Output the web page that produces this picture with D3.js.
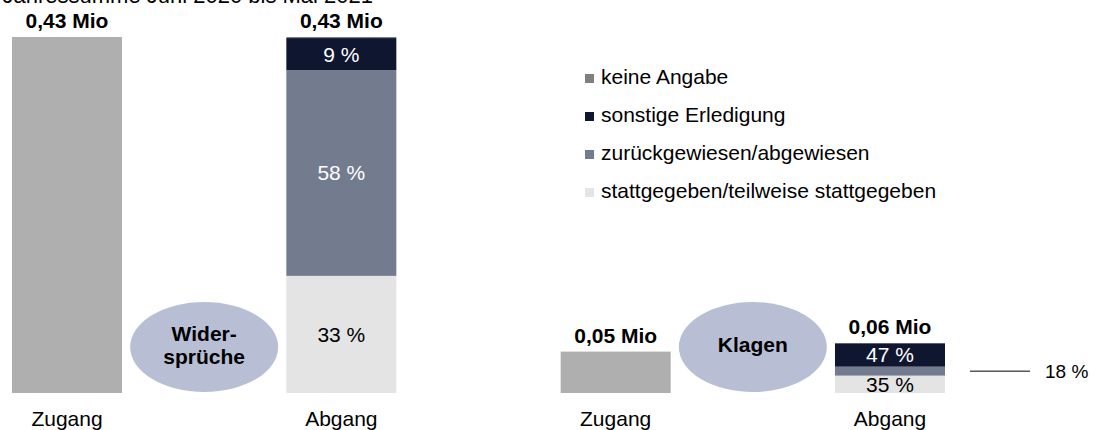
<!DOCTYPE html>
<html>
<head>
<meta charset="utf-8">
<script src="https://cdn.jsdelivr.net/npm/d3@7"></script>
<style>
  body { margin: 0; background: #fff; }
  svg { display: block; font-family: "Liberation Sans", Arial, sans-serif; }
</style>
</head>
<body>
<svg id="chart" width="1094" height="430"></svg>
<script>
// data
var groups = ["Widersprüche", "Klagen"];
var groupLines = [["Wider-", "sprüche"], ["Klagen"]];
var barKeys = ["W-Zugang", "W-Abgang", "K-Zugang", "K-Abgang"];
var zugang = [0.43, 0.05];
var abgang = [0.43, 0.06];
var zugangLabels = ["0,43 Mio", "0,05 Mio"];
var abgangLabels = ["0,43 Mio", "0,06 Mio"];
var outcomes = ["stattgegeben", "zurueck", "sonstige", "keine"];
var outcomeNames = ["stattgegeben/teilweise stattgegeben", "zurückgewiesen/abgewiesen", "sonstige Erledigung", "keine Angabe"];
// shares in percent per group, same order as outcomes
var shares = [
    [33, 58, 9, 0.3],
    [35, 18, 47, 0]
];
var shareLabels = [
    ["33 %", "58 %", "9 %", ""],
    ["35 %", "", "47 %", ""]
];
var title = "Jahressumme Juni 2020 bis Mai 2021";

var colors = {
    zugang: "#afafaf",
    stattgegeben: "#e4e4e4",
    zurueck: "#737b8f",
    sonstige: "#0f1630",
    keine: "#7f7f7f",
    ellipse: "#b8bfd4"
};
var labelColor = { stattgegeben: "#000", zurueck: "#fff", sonstige: "#fff", keine: "#000" };

var fs = "21px";
var svg = d3.select("#chart");
var baseY = 393;

var y = d3.scaleLinear().domain([0, 0.43]).range([baseY, 37]);
var x = d3.scaleBand().domain(barKeys).range([12, 945]).paddingInner(0.599).paddingOuter(0);

// cut-off title at the very top
svg.append("text")
    .attr("x", 373)
    .attr("y", 3)
    .attr("text-anchor", "end")
    .attr("font-size", "22px")
    .attr("fill", "#000")
    .text(title);

groups.forEach(function(g, i) {
    var zKey = barKeys[i * 2], aKey = barKeys[i * 2 + 1];

    // zugang bar
    svg.append("rect")
        .attr("x", x(zKey))
        .attr("y", y(zugang[i]))
        .attr("width", x.bandwidth())
        .attr("height", baseY - y(zugang[i]))
        .attr("fill", colors.zugang);

    svg.append("text")
        .attr("x", x(zKey) + x.bandwidth() / 2)
        .attr("y", y(zugang[i]) - 9)
        .attr("text-anchor", "middle")
        .attr("font-size", fs)
        .attr("font-weight", "bold")
        .text(zugangLabels[i]);

    // abgang stack
    var sum = d3.sum(shares[i]);
    var row = {};
    outcomes.forEach(function(o, j) { row[o] = shares[i][j] / sum * abgang[i]; });
    var stacked = d3.stack().keys(outcomes)([row]);

    stacked.forEach(function(s, j) {
        var d = s[0];
        var y0 = y(d[0]), y1 = y(d[1]);
        if (y0 - y1 <= 0) return;
        svg.append("rect")
            .attr("x", x(aKey))
            .attr("y", y1)
            .attr("width", x.bandwidth())
            .attr("height", y0 - y1)
            .attr("fill", colors[s.key]);

        var lbl = shareLabels[i][j];
        if (lbl) {
            svg.append("text")
                .attr("x", x(aKey) + x.bandwidth() / 2)
                .attr("y", (y0 + y1) / 2 + 7.5)
                .attr("text-anchor", "middle")
                .attr("font-size", fs)
                .attr("fill", labelColor[s.key])
                .text(lbl);
        }
    });

    svg.append("text")
        .attr("x", x(aKey) + x.bandwidth() / 2)
        .attr("y", y(abgang[i]) - 9)
        .attr("text-anchor", "middle")
        .attr("font-size", fs)
        .attr("font-weight", "bold")
        .text(abgangLabels[i]);

    // category labels
    [[zKey, "Zugang"], [aKey, "Abgang"]].forEach(function(p) {
        svg.append("text")
            .attr("x", x(p[0]) + x.bandwidth() / 2)
            .attr("y", 426)
            .attr("text-anchor", "middle")
            .attr("font-size", fs)
            .text(p[1]);
    });

    // ellipse between bars
    var ex = (x(zKey) + x.bandwidth() + x(aKey)) / 2;
    svg.append("ellipse")
        .attr("cx", ex)
        .attr("cy", 347)
        .attr("rx", 74)
        .attr("ry", 45)
        .attr("fill", colors.ellipse);

    var lines = groupLines[i];
    lines.forEach(function(t, k) {
        svg.append("text")
            .attr("x", ex)
            .attr("y", 352 + (k - (lines.length - 1) / 2) * 23)
            .attr("text-anchor", "middle")
            .attr("font-size", fs)
            .attr("font-weight", "bold")
            .text(t);
    });
});

// 18 % annotation for the thin Klagen segment
var kSum = d3.sum(shares[1]);
var kMid = y((shares[1][0] + shares[1][1] / 2) / kSum * abgang[1]);
svg.append("line")
    .attr("x1", 970).attr("x2", 1030)
    .attr("y1", kMid).attr("y2", kMid)
    .attr("stroke", "#000")
    .attr("stroke-width", 1);
svg.append("text")
    .attr("x", 1045)
    .attr("y", kMid + 7)
    .attr("font-size", "19px")
    .text(shares[1][1] + " %");

// legend, top to bottom reversed order
var legendItems = outcomes.slice().reverse();
var legendNames = outcomeNames.slice().reverse();
legendItems.forEach(function(o, i) {
    var ly = 84 + i * 38;
    svg.append("rect")
        .attr("x", 585)
        .attr("y", ly - 10)
        .attr("width", 9)
        .attr("height", 9)
        .attr("fill", colors[o]);
    svg.append("text")
        .attr("x", 601)
        .attr("y", ly)
        .attr("font-size", fs)
        .text(legendNames[i]);
});
</script>
</body>
</html>
